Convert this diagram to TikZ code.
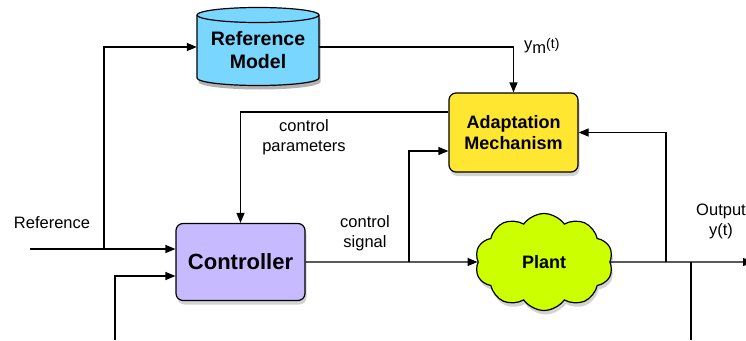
\documentclass[tikz,border=0pt]{standalone}
\usepackage{fontspec}
\setmainfont{Liberation Sans}
\usetikzlibrary{arrows.meta,shapes.symbols,shadows}
\definecolor{refblue}{RGB}{120,214,255}
\definecolor{adyellow}{RGB}{255,230,48}
\definecolor{ctrlviolet}{RGB}{200,186,255}
\definecolor{plantlime}{RGB}{204,255,0}
\tikzset{
  conn/.style={line width=1.2pt},
  arr/.style={conn,-{Triangle[length=10pt,width=8pt]}},
  lbl/.style={font=\fontsize{16.5}{20}\selectfont, align=center, inner sep=0pt},
  boldlbl/.style={font=\fontsize{18}{21.5}\selectfont\bfseries, align=center},
  shad/.style={drop shadow={opacity=0.35, shadow xshift=1.5pt, shadow yshift=-4pt}},
  boxnode/.style={draw, line width=1.2pt, rounded corners=7pt, shad, boldlbl},
}
\begin{document}
\begin{tikzpicture}[x=1pt,y=-1pt]
\useasboundingbox (0,0) rectangle (746,340);
% reference model cylinder
\begin{scope}[shift={(1.5,4)}]
\fill[black,opacity=0.3] (197,15) -- (197,78) arc[start angle=180,end angle=360,x radius=61pt,y radius=7.5pt] -- (319,15) arc[start angle=0,end angle=180,x radius=61pt,y radius=7.5pt] -- cycle;
\end{scope}
\filldraw[fill=refblue, line width=1.2pt] (197,15) -- (197,78) arc[start angle=180,end angle=360,x radius=61pt,y radius=7.5pt] -- (319,15) arc[start angle=0,end angle=180,x radius=61pt,y radius=7.5pt] -- cycle;
\draw[line width=1.2pt] (197,15) arc[start angle=180,end angle=360,x radius=61pt,y radius=7.5pt];
\node[boldlbl, font=\fontsize{19.5}{23}\selectfont\bfseries, minimum width=122pt, minimum height=77pt, inner sep=0pt] (refm) at (258,50.5) {Reference\\Model};
% blocks
\node[boxnode, fill=adyellow, minimum width=129pt, minimum height=79pt] (adapt) at (513.5,132.5) {Adaptation\\Mechanism};
\node[boxnode, fill=ctrlviolet, minimum width=129pt, minimum height=77pt, font=\fontsize{22}{26}\selectfont\bfseries] (ctrl) at (240.5,262) {Controller};
\node[cloud, cloud puffs=10, cloud puff arc=110, aspect=1.45, draw, line width=1.2pt, fill=plantlime, shad, boldlbl, minimum width=138pt, minimum height=97pt, inner sep=0pt] (plant) at (544,262) {Plant};
% coordinates
\coordinate (c0) at (104,47);
\coordinate (refin) at (30,249);
\coordinate (j1) at (104,249);
\coordinate (c1) at (240,112);
\coordinate (j2) at (409,262);
\coordinate (c2) at (409,151);
\coordinate (j3) at (666,262);
\coordinate (j4) at (691,262);
\coordinate (b4) at (691,340);
\coordinate (out) at (753,262);
\coordinate (b1) at (115,340);
\coordinate (c3) at (115,276);
% connectors
\draw[arr] (refin) -- (refin -| ctrl.west);
\draw[arr] (j1) |- (refm.west |- c0);
\draw[arr] (refm.east |- c0) -| (adapt.north);
\draw[arr] (adapt.west |- c1) -| (ctrl.north);
\draw[arr] (ctrl.east) -- (plant.west);
\draw[arr] (j2) |- (adapt.west |- c2);
\draw[arr] (plant.east) -- (out);
\draw[arr] (j3) |- (adapt.east);
\draw[conn] (j4) -- (b4);
\draw[arr] (b1) |- (c3 -| ctrl.west);
% labels
\node[lbl, anchor=base west] (lym) at (524,49) {y\raisebox{-4pt}{m}\raisebox{1pt}{\fontsize{14}{14}\selectfont(t)}};
\node[lbl] (lcp) at (304,137) {control\\parameters};
\node[lbl] (lcs) at (365,233) {control\\signal};
\node[lbl] (lref) at (52,223) {Reference};
\node[lbl] (lout) at (721,221) {Output\\y(t)};
\end{tikzpicture}
\end{document}
